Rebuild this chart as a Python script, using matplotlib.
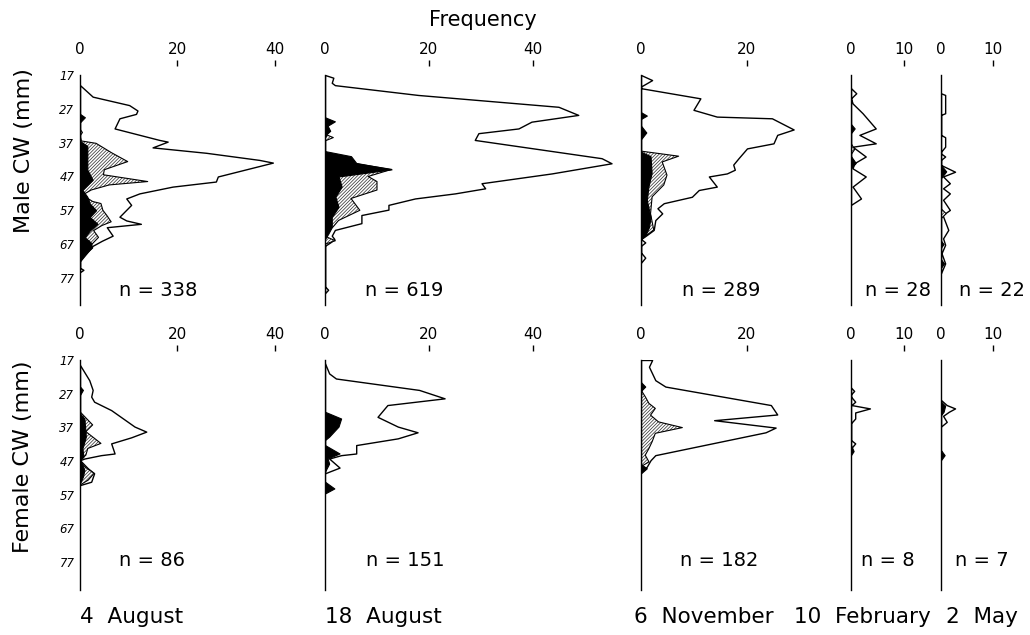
import matplotlib
matplotlib.use('Agg')
import matplotlib.pyplot as plt

plt.rcParams['font.family'] = ['DejaVu Sans']
plt.rcParams['hatch.linewidth'] = 0.55

# ---------------- data (CW in mm, frequency) ----------------
# Male, 4 August
m_aug04_total_cw = [20, 23.4, 25.9, 27.5, 28.5, 29.8, 32.8, 36.2, 36.7, 38.4, 40, 42.1, 42.9, 47, 48.5, 50, 52, 53.5, 55.4, 58.9, 60, 61, 62, 64.5, 66, 67.5, 71.5, 72, 74, 74.6, 75.3]
m_aug04_total_f = [0, 2.6, 10.1, 11.8, 11.5, 8.1, 7.1, 16.3, 18, 14.9, 25.9, 36.8, 39.6, 28.3, 27.9, 19, 12.2, 9.5, 10.5, 8.1, 9.5, 12.5, 5.5, 6.7, 4.5, 2.6, 0.3, 0, 0, 0.7, 0]
m_aug04_hatch_cw = [33, 34, 35, 36.5, 37.2, 40, 42.6, 45, 46.5, 48.5, 49.5, 51, 52.5, 54.4, 55, 57, 58.5, 60.4, 61.5, 63, 65, 66.8, 69, 71]
m_aug04_hatch_f = [0, 0.5, 0, 0.3, 3.3, 6.5, 9.8, 5, 4.8, 13.9, 6, 2.3, 0.5, 2.6, 4.3, 4.7, 5.5, 6.4, 4.5, 2.8, 3.8, 2.6, 1.5, 0]
m_aug04_black_cw = [28.5, 29.5, 31, 36.5, 38, 45, 48, 50, 51, 53, 55, 57, 59, 61, 63, 65, 66.5, 68, 70, 72]
m_aug04_black_f = [0, 1, 0, 0, 1.5, 1.5, 2.6, 1.2, 0.5, 1.5, 2, 3.3, 2, 3.6, 2, 1, 2.2, 2.5, 1, 0]

# Male, 18 August
m_aug18_total_cw = [17, 17.8, 19.3, 20, 22.9, 26.4, 28.8, 30.8, 32.8, 34.2, 36.2, 41.6, 43.1, 46.1, 49, 50.5, 52, 53.5, 55.4, 56.8, 58.4, 60.8, 62.8, 64.5, 65.5, 66.5, 67.5, 79.5, 80.5, 81.5]
m_aug18_total_f = [0, 1.6, 1.3, 1.9, 17.9, 44.9, 48.7, 39.7, 37.2, 29.5, 28.8, 53.2, 55.1, 43.6, 30.1, 30.8, 25, 17.3, 12.2, 12.2, 7, 7, 1.9, 1.3, 1.8, 1, 0, 0, 0.6, 0]
m_aug18_hatch_cw = [34.5, 35.5, 36.5, 40, 43, 44.9, 47, 48.5, 51, 53.5, 57, 60, 62, 63.5, 65, 66, 67]
m_aug18_hatch_f = [0, 1.6, 0, 0, 5, 12.8, 8.3, 10, 10, 5, 6.7, 2.6, 1.5, 0, 0.5, 2, 0]
m_aug18_black_cw = [29.5, 30.7, 32, 33.5, 34.5, 35.5, 39.5, 41, 43, 44.9, 47, 50, 53, 56, 59, 62, 64, 65.5]
m_aug18_black_f = [0, 1.9, 0.5, 1, 0.3, 0, 0, 5, 6, 12.8, 2.6, 3.2, 2, 2.6, 1.3, 1.3, 0.6, 0]

# Male, 6 November
m_nov06_total_cw = [17, 18.5, 20.4, 20.9, 23.9, 27.3, 29.3, 29.8, 33.1, 34.7, 37.2, 38.7, 41.6, 43.5, 45, 46.1, 47, 50, 51, 53, 54.9, 56.4, 57.9, 59.9, 62.8, 64.3, 65.5, 66.5, 67.5, 69.5, 71, 72.5]
m_nov06_total_f = [0, 2.1, 0, 0, 11.2, 9.9, 14.3, 24.7, 28.8, 25.7, 25, 20, 18.4, 17.4, 17.7, 16.2, 12.8, 14.3, 10.9, 9.6, 4.3, 3.1, 4, 2.7, 2.4, 1.1, 0, 0.8, 0, 0, 0.8, 0]
m_nov06_hatch_cw = [39.5, 41, 42.7, 44, 46.6, 49.5, 53, 58, 62.8, 64.3, 65.5]
m_nov06_hatch_f = [0, 7.1, 4, 4.3, 4.9, 4.3, 2.1, 1.8, 2.4, 1.1, 0]
m_nov06_black_cw = [28, 29, 30, 32, 34, 36, 39.7, 41, 46, 50, 54, 59, 62, 64.5, 65.5]
m_nov06_black_f = [0, 1.1, 0, 0, 1, 0, 0, 1.8, 2, 1.4, 1.1, 1.8, 1.5, 0.8, 0]

# Male, 10 February
m_feb10_total_cw = [20.9, 22.4, 23.9, 25.4, 28.3, 32.8, 34.7, 37.2, 38.2, 41.1, 43.1, 44.6, 47, 50, 53.5, 55.4]
m_feb10_total_f = [0, 1, 0, 0.3, 2.2, 4.7, 1.6, 4.7, 0.3, 2.8, 0.6, 0.3, 2.8, 0.3, 1.9, 0]
m_feb10_hatch_cw = [37.2, 39, 40.6]
m_feb10_hatch_f = [0, 0.7, 0]
m_feb10_black_cw = [31.5, 32.8, 34.2, 41, 43, 44.6]
m_feb10_black_f = [0, 0.7, 0, 0, 0.9, 0]

# Male, 2 May
m_may02_total_cw = [22.4, 22.9, 28.3, 28.8, 34.7, 35.4, 38.2, 39.7, 40.2, 41.1, 42.1, 43.6, 45.6, 47, 49, 50.5, 52, 53.9, 56.9, 58.4, 62.8, 65.3, 67.2, 69.7, 72.7, 75.6]
m_may02_total_f = [0, 0.8, 0.8, 0, 0, 0.8, 0.8, 0, 0, 0.8, 0, 0, 2.7, 0.4, 1.7, 0.4, 1.7, 0.4, 1.7, 0.3, 1.4, 0.4, 0.8, 0.1, 0.8, 0]
m_may02_hatch_cw = [56.5, 58, 59.5]
m_may02_hatch_f = [0, 1, 0]
m_may02_black_cw = [43.6, 45.5, 47.5, 66, 67, 68, 71.5, 72.7, 74]
m_may02_black_f = [0, 1, 0, 0, 0.5, 0, 0, 0.6, 0]

# Female, 4 August
f_aug04_total_cw = [18.5, 23, 25.9, 27.9, 29.4, 31.9, 36.8, 38.3, 40, 41.8, 44.8, 45.3, 46.3, 46.8, 49.2, 50.7, 53.2, 54.2]
f_aug04_total_f = [0, 1.9, 2.6, 2.3, 2.9, 6.4, 11.2, 13.6, 10.5, 6.4, 7.1, 4.3, 0.9, 0, 1.6, 2.9, 2.3, 0]
f_aug04_hatch_cw = [32.4, 36.3, 38.3, 41.8, 43.3, 45.3, 46.8, 48.7, 50.7, 52.7, 54.2]
f_aug04_hatch_f = [0, 2.6, 1.2, 4.3, 1.6, 1.2, 0, 0.9, 2.9, 1.7, 0]
f_aug04_black_cw = [24.9, 25.9, 27.4, 32.9, 34.4, 39.8, 43.3, 45.8, 46.8, 49.7, 51.7, 53.7]
f_aug04_black_f = [0, 0.6, 0, 0, 0.9, 1.2, 0.5, 0.7, 0, 0.9, 0.6, 0]

# Female, 18 August
f_aug18_total_cw = [18, 21, 22.5, 25.9, 28.4, 30.4, 33.9, 36.8, 38.5, 40.3, 42.3, 44.8, 45.3, 46.3, 49, 50.2, 50.7]
f_aug18_total_f = [0, 0.8, 2.1, 18.1, 23, 12, 10.1, 14, 17.8, 14, 6, 6, 3.1, 0.8, 2.8, 0.8, 0]
f_aug18_hatch_cw = [36, 37.5, 39]
f_aug18_hatch_f = [0, 2.2, 0]
f_aug18_black_cw = [32.4, 34.4, 36.8, 39.8, 40.8, 42.3, 44.8, 46.3, 47.8, 50.2, 53.2, 55.2, 56.7]
f_aug18_black_f = [0, 3.1, 2.6, 0.8, 0, 0, 2.8, 0.5, 0.8, 0, 0, 1.8, 0]

# Female, 6 November
f_nov06_total_cw = [17, 17, 19, 21, 23, 24.9, 30.4, 33.2, 34.9, 37.1, 38.5, 45.3, 46.8, 48.7, 50.2]
f_nov06_total_f = [0, 2.1, 1.5, 2.1, 2.7, 4.6, 24.5, 25.7, 13.8, 25.4, 23.5, 2.7, 1.8, 1.1, 0]
f_nov06_hatch_cw = [25.9, 27.9, 29.9, 31.4, 33.4, 35.4, 37.1, 38.8, 41.3, 43.3, 45.3, 47.3, 48.7]
f_nov06_hatch_f = [0, 0.8, 1.5, 2.7, 1.8, 3.3, 7.8, 2.7, 2.1, 1.5, 0.8, 1.5, 0]
f_nov06_black_cw = [23.6, 24.9, 26.2, 48, 49.2, 50.7]
f_nov06_black_f = [0, 0.8, 0, 0, 1.1, 0]

# Female, 10 February
f_feb10_total_cw = [25.2, 26.2, 27.2, 27.9, 29.4, 30.4, 31.4, 32.6, 34.4, 35.8, 40.8, 41.8, 43.3]
f_feb10_total_f = [0, 0.6, 0, 0, 0.8, 0.1, 3.6, 0.8, 0.8, 0, 0, 0.8, 0]
f_feb10_hatch_cw = []
f_feb10_hatch_f = []
f_feb10_black_cw = [42.3, 44.1, 45.3]
f_feb10_black_f = [0, 0.5, 0]

# Female, 2 May
f_may02_total_cw = [28.9, 30.4, 31.4, 32.4, 33.6, 35.4, 36.8]
f_may02_total_f = [0, 1.1, 2.7, 1.5, 0.4, 1.1, 0]
f_may02_hatch_cw = []
f_may02_hatch_f = []
f_may02_black_cw = [29.4, 30.6, 32.4, 33.4, 43.8, 45.3, 46.8]
f_may02_black_f = [0, 0.8, 0.5, 0, 0, 0.7, 0]

dates = ['4  August', '18  August', '6  November', '10  February', '2  May']
n_male = [338, 619, 289, 28, 22]
n_female = [86, 151, 182, 8, 7]
cw_ticks = [17, 27, 37, 47, 57, 67, 77]
freq_ticks = [[0, 20, 40], [0, 20, 40], [0, 20], [0, 10], [0, 10]]

male = [
    (m_aug04_total_cw, m_aug04_total_f, m_aug04_hatch_cw, m_aug04_hatch_f, m_aug04_black_cw, m_aug04_black_f),
    (m_aug18_total_cw, m_aug18_total_f, m_aug18_hatch_cw, m_aug18_hatch_f, m_aug18_black_cw, m_aug18_black_f),
    (m_nov06_total_cw, m_nov06_total_f, m_nov06_hatch_cw, m_nov06_hatch_f, m_nov06_black_cw, m_nov06_black_f),
    (m_feb10_total_cw, m_feb10_total_f, m_feb10_hatch_cw, m_feb10_hatch_f, m_feb10_black_cw, m_feb10_black_f),
    (m_may02_total_cw, m_may02_total_f, m_may02_hatch_cw, m_may02_hatch_f, m_may02_black_cw, m_may02_black_f),
]
female = [
    (f_aug04_total_cw, f_aug04_total_f, f_aug04_hatch_cw, f_aug04_hatch_f, f_aug04_black_cw, f_aug04_black_f),
    (f_aug18_total_cw, f_aug18_total_f, f_aug18_hatch_cw, f_aug18_hatch_f, f_aug18_black_cw, f_aug18_black_f),
    (f_nov06_total_cw, f_nov06_total_f, f_nov06_hatch_cw, f_nov06_hatch_f, f_nov06_black_cw, f_nov06_black_f),
    (f_feb10_total_cw, f_feb10_total_f, f_feb10_hatch_cw, f_feb10_hatch_f, f_feb10_black_cw, f_feb10_black_f),
    (f_may02_total_cw, f_may02_total_f, f_may02_hatch_cw, f_may02_hatch_f, f_may02_black_cw, f_may02_black_f),
]

# ---------------- layout (pixels) ----------------
W, H = 1030, 635
fig = plt.figure(figsize=(W / 100, H / 100), dpi=100)

col_x0 = [80, 325, 641, 851, 941]
col_pxunit = [4.87, 5.2, 5.3, 5.26, 5.2]
col_xmax = [48, 58, 38, 16, 17]
row_top = [75, 360]
row_h = 230
row_ymax = [85.0, 85.4]

n_pos_x = [[158, 404, 721, 898, 992], [152, 405, 719, 888, 982]]
n_pos_y = [290, 560]
date_x = [132, 383, 704, 862, 982]
date_y = 617


def px_axes(x0, ytop, w, h):
    return fig.add_axes([x0 / W, 1 - (ytop + h) / H, w / W, h / H])


def draw_panel(ax, data, col, row):
    tcw, tf, hcw, hf, bcw, bf = data
    ax.fill_betweenx(tcw, 0, tf, facecolor='white', edgecolor='black', lw=1.0, zorder=2)
    if len(hcw):
        ax.fill_betweenx(hcw, 0, hf, facecolor='white', edgecolor='#3a3a3a',
                         hatch='//////////', lw=0, zorder=3)
        ax.plot(hf, hcw, color='black', lw=0.8, zorder=3.5)
    if len(bcw):
        ax.fill_betweenx(bcw, 0, bf, facecolor='black', edgecolor='black', lw=0.8, zorder=4)
    ax.set_xlim(0, col_xmax[col])
    ax.set_ylim(row_ymax[row], 17)
    for s in ['right', 'bottom']:
        ax.spines[s].set_visible(False)
    ax.spines['left'].set_linewidth(1.0)
    ax.spines['left'].set_zorder(5)
    ax.spines['top'].set_position(('outward', 6.5))
    ax.spines['top'].set_visible(False)
    ax.xaxis.tick_top()
    ax.xaxis.remove_overlapping_locs = False
    ticks = freq_ticks[col]
    ax.set_xticks(ticks)
    ax.set_xticklabels([str(t) for t in ticks])
    ax.set_xticks([t for t in ticks if t != 0], minor=True)
    ax.xaxis.set_minor_formatter(plt.NullFormatter())
    ax.tick_params(axis='x', which='major', length=0, pad=6.5, labelsize=11,
                   top=True, bottom=False, labeltop=True, labelbottom=False)
    ax.tick_params(axis='x', which='minor', length=4.3, width=1.0,
                   top=True, bottom=False, labeltop=False, labelbottom=False)
    if col == 0:
        ax.set_yticks(cw_ticks)
        ax.set_yticklabels([str(t) for t in cw_ticks], fontsize=8.5, style='italic')
        ax.tick_params(axis='y', length=0, pad=4)
    else:
        ax.set_yticks([])
    ax.patch.set_alpha(0)


for row, dataset in enumerate([male, female]):
    for col in range(5):
        w = col_pxunit[col] * col_xmax[col]
        ax = px_axes(col_x0[col], row_top[row], w, row_h)
        draw_panel(ax, dataset[col], col, row)

# texts
def ftext(x, y, s, **kw):
    fig.text(x / W, 1 - y / H, s, ha='center', va='center', **kw)

ftext(483, 20, 'Frequency', fontsize=15)
ftext(24, 151, 'Male CW (mm)', fontsize=16, rotation=90)
ftext(23, 457, 'Female CW (mm)', fontsize=16, rotation=90)
for row, ns in enumerate([n_male, n_female]):
    for col, n in enumerate(ns):
        ftext(n_pos_x[row][col], n_pos_y[row], f'n = {n}', fontsize=14)
for col, d in enumerate(dates):
    ftext(date_x[col], date_y, d, fontsize=15.5)

fig.savefig('out.png', dpi=100)
